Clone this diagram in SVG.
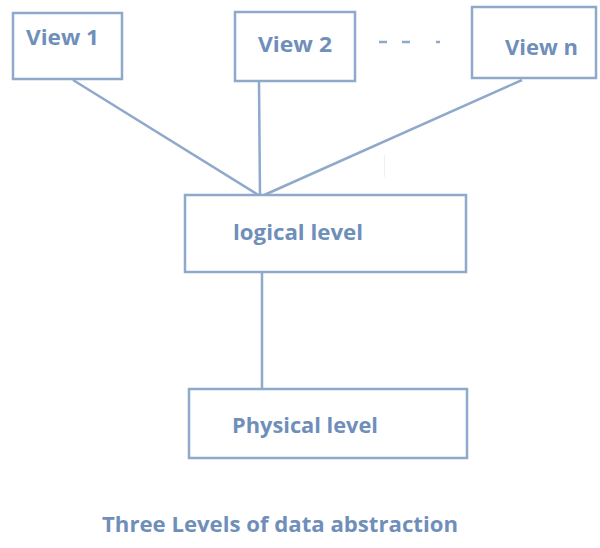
<svg xmlns="http://www.w3.org/2000/svg" width="600" height="548" viewBox="0 0 600 548">
<style>
.box{fill:#fff;stroke:#8fa9cb;stroke-width:2.5}
.lbl{font-family:"Open Sans","Noto Sans",sans-serif;font-weight:bold;font-size:20.5px;fill:#6f8fba}
.ln{stroke:#8fa9cb;stroke-width:2.5;fill:none}
</style>
<rect width="600" height="548" fill="#fff"/>
<g id="connectors">
<line class="ln" x1="73" y1="80" x2="260" y2="196"/>
<line class="ln" x1="259" y1="82" x2="260" y2="196"/>
<line class="ln" x1="522" y1="80" x2="262" y2="196"/>
<circle cx="260" cy="196" r="2.5" fill="#8fa9cb"/>
<line class="ln" x1="262" y1="273" x2="262" y2="388"/>
<line x1="384.5" y1="155" x2="384.5" y2="177" stroke="#eceff4" stroke-width="1"/>
<g stroke="#8fa9cb" stroke-width="2.5">
<line x1="379" y1="42" x2="387" y2="42"/>
<line x1="402" y1="42" x2="410" y2="42"/>
<line x1="436" y1="42" x2="440" y2="42"/>
</g>
</g>
<g id="view1">
<rect class="box" x="13" y="13" width="109" height="66"/>
<text class="lbl" x="26" y="45" textLength="73" lengthAdjust="spacingAndGlyphs">View 1</text>
</g>
<g id="view2">
<rect class="box" x="235" y="12" width="120" height="69"/>
<text class="lbl" x="258" y="52" textLength="74" lengthAdjust="spacingAndGlyphs">View 2</text>
</g>
<g id="viewn">
<rect class="box" x="472" y="7" width="124" height="71"/>
<text class="lbl" x="505" y="55" textLength="73" lengthAdjust="spacingAndGlyphs">View n</text>
</g>
<g id="logical">
<rect class="box" x="185" y="195" width="281" height="77"/>
<text class="lbl" x="233" y="240" textLength="130" lengthAdjust="spacingAndGlyphs">logical level</text>
</g>
<g id="physical">
<rect class="box" x="189" y="389" width="278" height="69"/>
<text class="lbl" x="232" y="433" textLength="146" lengthAdjust="spacingAndGlyphs">Physical level</text>
</g>
<text class="lbl" x="102" y="532" textLength="356" lengthAdjust="spacingAndGlyphs">Three Levels of data abstraction</text>
</svg>
